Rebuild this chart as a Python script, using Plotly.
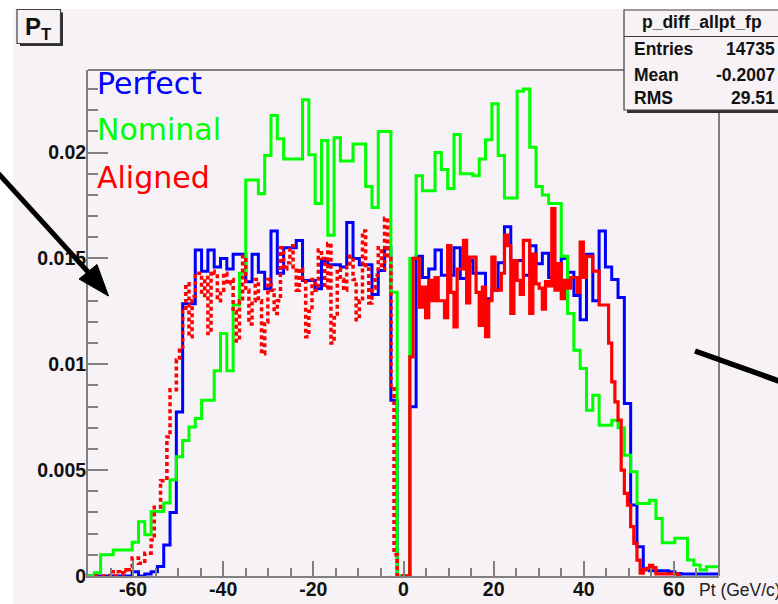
import plotly.graph_objects as go

# ---------------- data (bin contents in units of 1e-3) ----------------
X_MIN, X_MAX = -70.0, 70.0
Y_MAX = 0.0239
SCALE = 1e-3

perfect = [
    0, 0, 0, 0, 0, 0, 0, 0.2, 0, 0.1,
    0.2, 0.45, 1.46, 3.0, 7.75, 12.86, 12.86, 15.4, 14.4, 15.4,
    14.6, 15.0, 14.5, 15.2, 15.2, 13.9, 15.2, 14.35, 13.57, 16.3,
    14.3, 15.5, 15.5, 15.85, 13.96, 13.96, 13.57, 14.9, 14.7, 14.7,
    14.6, 16.7, 15.0, 14.7, 14.7, 13.3, 14.43, 15.5, 8.3, 0,
    0, 8.0, 15.1, 14.1, 14.5, 15.4, 14.2, 14.2, 15.5, 14.05,
    14.9, 14.3, 14.3, 13.1, 13.5, 14.8, 16.5, 14.9, 14.9, 14.2,
    15.6, 14.75, 15.25, 14.1, 14.1, 15.0, 14.35, 13.25, 12.1, 15.2,
    13.0, 16.3, 14.6, 14.0, 13.15, 8.15, 3.35, 1.38, 0.3, 0.25,
    0.25, 0.25, 0.2, 0.12, 0.1, 0.1, 0.1, 0.1, 0.1, 0.1,
]

nominal = [
    0, 0.15, 1.0, 1.0, 1.23, 1.23, 1.23, 1.6, 2.56, 1.95,
    3.05, 3.05, 3.45, 4.55, 5.63, 6.4, 7.04, 7.44, 8.3, 8.3,
    9.7, 11.45, 9.7, 12.8, 14.3, 18.7, 18.7, 18.05, 19.86, 21.75,
    20.65, 19.7, 19.7, 19.7, 22.5, 19.9, 17.6, 20.57, 16.1, 20.7,
    19.6, 19.6, 20.4, 20.4, 18.4, 17.4, 21.0, 21.0, 13.4, 0,
    0, 15.0, 18.9, 18.2, 18.2, 20.0, 19.2, 18.3, 20.85, 19.0,
    19.0, 18.9, 19.7, 20.6, 22.3, 19.86, 17.86, 17.86, 22.9, 23.0,
    20.25, 18.4, 18.0, 17.6, 17.6, 15.1, 12.4, 10.66, 9.8, 7.83,
    8.54, 7.12, 7.12, 7.36, 7.0, 5.7, 4.92, 3.43, 3.43, 3.58,
    2.72, 1.57, 1.57, 1.78, 1.78, 0.75, 0.52, 0.28, 0.44, 0.44,
]

aligned = [
    0, 0, 0, 0, 0, 0, 0, 0.2, 0, 0.2,
    0.1, 0.3, 0.2, 0.3, 0.85, 0.85, 0.6, 0.6, 1.08, 1.08,
    1.7, 3.25, 3.25, 4.5, 4.5, 6.56, 8.8, 8.8, 10.2, 10.66,
    12.5, 13.8, 11.3, 13.2, 14.3, 14.3, 13.25, 14.1, 11.45, 14.4,
    14.3, 13.0, 13.5, 14.3, 13.8, 14.0, 12.5, 11.1, 13.0, 15.1,
    13.5, 11.9, 13.0, 14.0, 13.0, 10.5, 12.0, 14.0, 13.5, 12.4,
    13.0, 15.5, 14.5, 14.8, 15.6, 14.6, 13.5, 14.5, 14.0, 11.3,
    12.5, 14.0, 13.5, 15.4, 15.0, 13.6, 15.7, 11.0, 12.2, 14.5,
    14.0, 13.5, 14.6, 15.1, 14.0, 12.1, 13.0, 16.3, 14.5, 12.9,
    13.6, 14.2, 15.5, 14.5, 16.9, 15.0, 9.0, 1.0, 0, 0,
    0, 0, 10.35, 15.0, 15.0, 12.7, 13.65, 12.2, 13.96, 13.0,
    14.1, 13.0, 13.0, 12.2, 15.6, 13.4, 11.76, 14.5, 14.5, 15.85,
    12.9, 15.06, 15.06, 13.4, 11.84, 13.65, 11.3, 13.0, 15.06, 13.5,
    13.5, 14.3, 16.1, 15.6, 12.4, 14.9, 13.96, 13.3, 15.85, 15.85,
    12.4, 15.2, 13.8, 13.6, 12.6, 13.9, 13.7, 17.35, 13.5, 14.75,
    13.1, 13.96, 13.6, 14.1, 14.1, 13.4, 15.77, 14.1, 15.1, 15.1,
    14.4, 14.4, 12.8, 12.8, 12.8, 11.0, 9.17, 8.22, 7.36, 5.0,
    3.9, 3.35, 2.33, 1.54, 0.75, 0.13, 0.3, 0.36, 0.5, 0.4,
    0.1, 0.1, 0.1, 0.1, 0.1, 0.1, 0.1, 0, 0, 0,
    0, 0, 0, 0, 0, 0, 0, 0, 0, 0,
]

y_tick_vals = [0, 0.005, 0.01, 0.015, 0.02]
y_tick_text = ["0", "0.005", "0.01", "0.015", "0.02"]
x_tick_vals = [-60, -40, -20, 0, 20, 40, 60]
x_tick_text = ["-60", "-40", "-20", "0", "20", "40", "60"]

legend_labels = ["Perfect", "Nominal", "Aligned"]
stats_title = "p_diff_allpt_fp"
stats_rows = [("Entries", "14735"), ("Mean", "-0.2007"), ("RMS", "29.51")]
x_title = "Pt (GeV/c)"

BLUE, GREEN, RED = "#0000ff", "#00ff00", "#ff0000"
CANVAS = "#f6f2f6"
AXC = "#808080"


def step_xy(values, lo, hi, first=0, last=None):
    n = len(values)
    w = (hi - lo) / n
    if last is None:
        last = n - 1
    xs = [lo + i * w for i in range(first, last + 2)]
    ys = [values[i] * SCALE for i in range(first, last + 1)] + [values[last] * SCALE]
    return xs, ys


fig = go.Figure()

xb, yb = step_xy(perfect, X_MIN, X_MAX)
fig.add_trace(go.Scatter(x=xb, y=yb, mode="lines", line=dict(color=BLUE, width=3, shape="hv"),
                         name="Perfect", showlegend=False))
xg, yg = step_xy(nominal, X_MIN, X_MAX)
fig.add_trace(go.Scatter(x=xg, y=yg, mode="lines", line=dict(color=GREEN, width=3, shape="hv"),
                         name="Nominal", showlegend=False))

half = len(aligned) // 2
red_neg = aligned[:half]
red_pos = aligned[half:]
xr1, yr1 = step_xy(red_neg, X_MIN, 0.0, first=2)
fig.add_trace(go.Scatter(x=xr1, y=yr1, mode="lines",
                         line=dict(color=RED, width=3.5, shape="hv", dash="4px,3px"),
                         name="Aligned", showlegend=False))
last_nz = max(i for i, v in enumerate(red_pos) if v > 0)
xr2, yr2 = step_xy(red_pos, 0.0, X_MAX, last=min(last_nz + 1, len(red_pos) - 1))
fig.add_trace(go.Scatter(x=xr2, y=yr2, mode="lines",
                         line=dict(color=RED, width=3.2, shape="hv"),
                         name="Aligned", showlegend=False))

# ---------------- layout geometry (pixels) ----------------
L, R, T, B = 88, 719, 70, 576
W, H = R - L, B - T


def fx(px):
    return (px - L) / W


def fy(py):
    return (B - py) / H


shapes = []
# canvas
shapes.append(dict(type="rect", xref="paper", yref="paper", x0=fx(13), x1=fx(800),
                   y0=fy(640), y1=fy(9), fillcolor=CANVAS, line=dict(width=0), layer="below"))
# frame top & right
shapes.append(dict(type="line", xref="paper", yref="paper", x0=0, x1=fx(624), y0=1, y1=1,
                   line=dict(color=AXC, width=2), layer="above"))
shapes.append(dict(type="line", xref="paper", yref="paper", x0=1, x1=1, y0=0, y1=fy(112),
                   line=dict(color=AXC, width=2), layer="above"))
# stats box shadow + box
shapes.append(dict(type="rect", xref="paper", yref="paper", x0=fx(627), x1=fx(800),
                   y0=fy(113), y1=fy(13), fillcolor="#303030", line=dict(width=0), layer="above"))
shapes.append(dict(type="rect", xref="paper", yref="paper", x0=fx(624), x1=fx(797),
                   y0=fy(110), y1=fy(10), fillcolor=CANVAS, line=dict(color="#404040", width=1.2),
                   layer="above"))
shapes.append(dict(type="line", xref="paper", yref="paper", x0=fx(624), x1=fx(797),
                   y0=fy(36.5), y1=fy(36.5), line=dict(color="#404040", width=1.2), layer="above"))
# title box shadow + box
shapes.append(dict(type="rect", xref="paper", yref="paper", x0=fx(20), x1=fx(63),
                   y0=fy(46), y1=fy(12.5), fillcolor="#303030", line=dict(width=0), layer="above"))
shapes.append(dict(type="rect", xref="paper", yref="paper", x0=fx(17), x1=fx(60.5),
                   y0=fy(43.5), y1=fy(9.5), fillcolor=CANVAS, line=dict(color="#404040", width=1.2),
                   layer="above"))
# arrow 1 (upper left)
shapes.append(dict(type="line", xref="paper", yref="paper", x0=fx(-2), y0=fy(173),
                   x1=fx(89), y1=fy(273), line=dict(color="black", width=5), layer="above"))
shapes.append(dict(type="path", xref="paper", yref="paper",
                   path="M {} {} L {} {} L {} {} Z".format(fx(108.5), fy(296), fx(79), fy(279),
                                                          fx(97), fy(264.5)),
                   fillcolor="black", line=dict(color="black", width=1), layer="above"))
# arrow 2 (right)
shapes.append(dict(type="line", xref="paper", yref="paper", x0=fx(695), y0=fy(351),
                   x1=fx(790), y1=fy(385), line=dict(color="black", width=5.5), layer="above"))

annotations = []
leg_font = "DejaVu Sans"
for lab, col, py in zip(legend_labels, [BLUE, GREEN, RED], [83.5, 129.5, 177.5]):
    annotations.append(dict(text=lab, xref="paper", yref="paper", x=fx(95), y=fy(py),
                            xanchor="left", yanchor="middle", showarrow=False,
                            font=dict(family=leg_font, size=30, color=col)))

sfont = dict(family="Liberation Sans", size=17.5, color="#111111", weight="bold")
annotations.append(dict(text=stats_title, xref="paper", yref="paper", x=fx(702), y=fy(22.5),
                        xanchor="center", yanchor="middle", showarrow=False, font=sfont))
for (k, v), py in zip(stats_rows, [49.5, 75, 97.5]):
    annotations.append(dict(text=k, xref="paper", yref="paper", x=fx(632), y=fy(py),
                            xanchor="left", yanchor="middle", showarrow=False, font=sfont))
    annotations.append(dict(text=v, xref="paper", yref="paper", x=fx(777), y=fy(py),
                            xanchor="right", yanchor="middle", showarrow=False, font=sfont))

annotations.append(dict(text="P<sub>T</sub>", xref="paper", yref="paper", x=fx(23), y=fy(28),
                        xanchor="left", yanchor="middle", showarrow=False,
                        font=dict(family="Liberation Sans", size=24, color="#111111", weight="bold")))
annotations.append(dict(text=x_title, xref="paper", yref="paper", x=fx(697), y=fy(589.5),
                        xanchor="left", yanchor="middle", showarrow=False,
                        font=dict(family="Liberation Sans", size=17.5, color="#222222")))

tickfont = dict(family="Liberation Sans", size=19.5, color="#111111", weight="bold")

fig.update_layout(
    width=778, height=604,
    margin=dict(l=L, r=778 - R, t=T, b=604 - B, pad=0, autoexpand=False),
    paper_bgcolor="white", plot_bgcolor=CANVAS,
    showlegend=False,
    shapes=shapes, annotations=annotations,
    xaxis=dict(range=[X_MIN, X_MAX], tickmode="array", tickvals=x_tick_vals, ticktext=x_tick_text,
               ticks="inside", ticklen=15, tickwidth=2, tickcolor=AXC, ticklabelstandoff=-5,
               minor=dict(tickmode="linear", tick0=0, dtick=5, ticks="inside", ticklen=8,
                          tickwidth=2, tickcolor=AXC),
               showline=True, linecolor=AXC, linewidth=2, showgrid=False, zeroline=False,
               tickfont=tickfont, automargin=False, fixedrange=True),
    yaxis=dict(range=[0, Y_MAX], tickmode="array", tickvals=y_tick_vals, ticktext=y_tick_text,
               ticks="inside", ticklen=20, tickwidth=2, tickcolor=AXC, ticklabelstandoff=-4,
               minor=dict(tickmode="linear", tick0=0, dtick=0.001, ticks="inside", ticklen=10,
                          tickwidth=2, tickcolor=AXC),
               showline=True, linecolor=AXC, linewidth=2, showgrid=False, zeroline=False,
               tickfont=tickfont, automargin=False, fixedrange=True),
)

fig.write_html("out.html")
